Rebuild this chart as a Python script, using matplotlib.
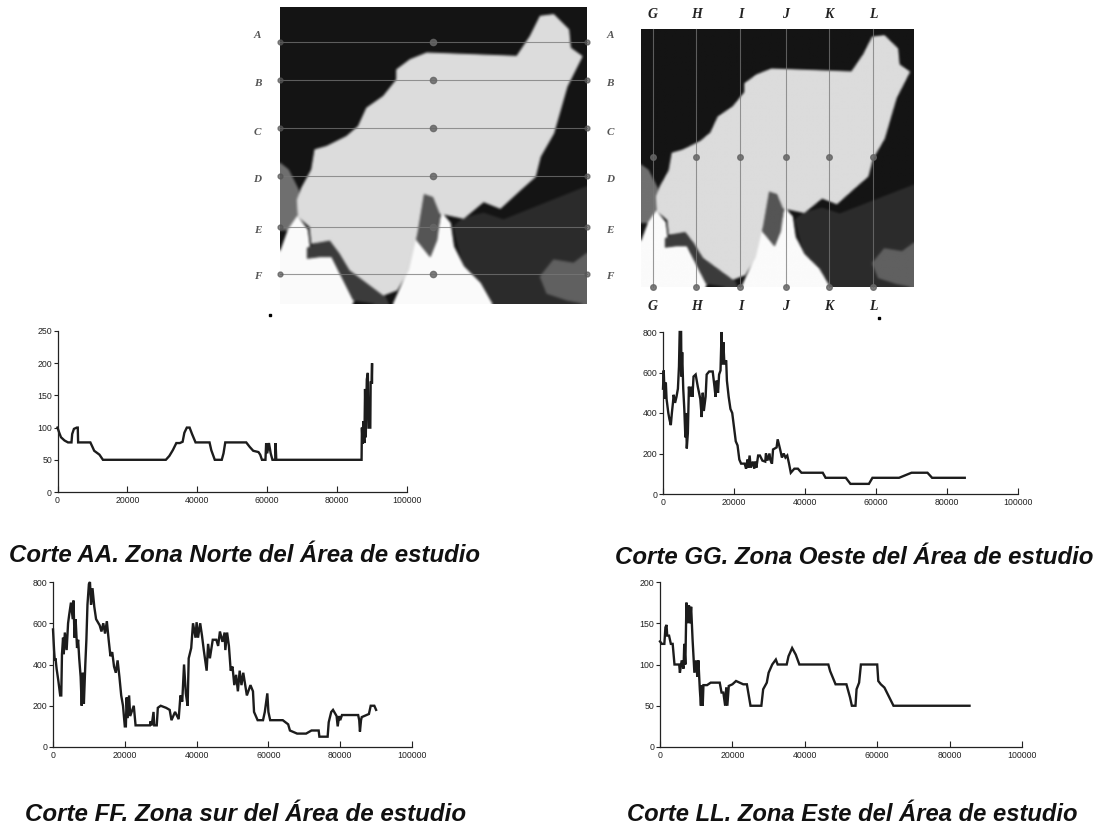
import numpy as np
import matplotlib
matplotlib.use("Agg")
import matplotlib.pyplot as plt
from matplotlib.figure import Figure
from matplotlib.backends.backend_agg import FigureCanvasAgg
from matplotlib.patches import Polygon

W, H = 1096, 826

# ---------- profile data ----------
aa_x = [0,500,1000,2000,3000,4000,4200,4700,5500,5800,5900,9400,10000,10500,12000,13000,31000,32000,33000,34000,35000,35800,36300,37000,37800,38500,39500,43500,44000,45000,47000,47500,48000,54000,55000,56000,57500,58000,58500,59500,59700,60000,60500,61000,61500,62300,62400,62600,87000,87100,87300,87500,87800,88000,88200,88500,88800,89000,89500,89600,89900,90000,90000]
aa_y = [100,92,85,80,77,77,90,98,100,100,77,77,70,64,58,50,50,56,65,76,76,78,92,100,100,90,77,77,65,50,50,60,77,77,70,64,62,58,50,50,76,60,76,60,50,50,76,50,50,100,75,110,76,160,85,175,185,100,100,170,170,200,170]

gg_x = [0,200,500,800,1000,1500,1800,2200,2500,2800,3000,3400,3800,4200,4500,4700,5100,5200,5400,5700,6000,6300,6500,6700,7000,7300,7500,8000,8300,8600,9200,9800,10500,10900,11200,11500,12000,12300,13000,14000,14500,14800,15100,15500,15800,16200,16500,16700,17000,17300,17800,18000,18500,19000,19500,20000,20500,21000,21500,22000,23000,23400,23800,24000,24400,24700,25300,25700,26000,26300,26800,27300,28000,28800,29000,29400,30000,30200,30700,31000,32000,32300,33000,33500,34000,34500,35000,35500,36000,37000,38000,39000,45000,45800,51500,52800,58000,59000,66500,70000,74500,75800,85000]
gg_y = [520,610,470,550,470,400,370,340,400,450,490,450,480,520,630,800,800,580,700,520,420,280,400,225,300,530,480,530,480,580,590,530,470,380,500,410,480,590,605,605,530,480,560,500,590,610,800,640,750,640,660,560,480,420,400,330,260,240,170,150,150,125,170,130,190,130,160,125,160,130,190,190,165,160,200,165,200,170,150,220,230,270,220,180,200,180,190,150,105,125,125,105,105,80,80,50,50,80,80,105,105,80,80]

ff_x = [0,300,500,700,1000,1500,2000,2300,2500,2800,3000,3300,3800,4200,4500,5000,5500,5700,6000,6300,6700,7000,7300,7700,8000,8300,8600,9000,9300,9600,10000,10300,10600,11000,11500,12000,13000,13500,14000,14500,15000,15500,16000,16500,17000,17500,18000,18500,19000,19500,20000,20300,20500,20800,21200,21500,22500,23000,27000,27200,27500,28000,28200,28900,29200,30000,31500,32500,33000,34000,35000,35500,36000,36500,37000,37500,37800,38500,39000,39700,40000,40400,41000,41500,42000,42800,43200,43700,44500,45500,46000,46500,47200,47800,48000,48500,49000,49500,50000,50500,51000,51500,52000,52500,53000,54000,55000,55700,56000,57000,58500,59000,59700,60000,60500,64000,65500,66000,68000,70500,72000,74000,74200,76500,76800,77500,78000,79000,79300,79700,80000,80500,85000,85300,85500,85800,86000,88000,88500,89500,90000]
ff_y = [570,470,420,430,380,320,250,250,450,530,450,555,470,600,640,700,620,710,530,620,480,520,430,340,200,360,210,400,520,690,790,800,690,770,680,620,590,560,600,550,610,520,440,460,390,360,420,340,250,200,100,100,240,140,250,150,200,105,105,125,105,170,105,105,190,200,190,180,130,170,135,250,220,400,260,200,430,480,600,530,605,530,600,540,470,370,500,430,520,520,490,560,510,555,470,555,490,370,390,300,350,270,370,300,360,250,300,270,170,130,130,170,260,170,130,130,110,80,65,65,80,80,50,50,120,170,180,150,100,150,130,155,155,130,75,130,145,160,200,200,180]

ll_x = [0,500,1200,1500,1800,2000,2500,3000,3500,4000,5300,5500,6000,6500,6700,7000,7300,7600,8000,8300,8600,9000,9500,10000,10300,10600,11000,11300,11500,11800,12000,13000,14000,16500,17000,17500,18000,18300,18600,19000,20000,21000,22000,23000,24000,25000,28000,28500,29500,30000,31000,32000,32500,35000,35500,36500,37500,38500,46500,47000,48500,51500,52500,53000,54000,54300,55000,55500,60000,60300,61000,62000,64500,85500]
ll_y = [128,125,125,145,148,135,135,125,125,100,100,90,105,95,125,100,175,150,172,150,170,130,90,105,85,105,70,50,75,50,75,75,78,78,66,66,50,72,50,74,76,80,78,76,76,50,50,70,78,90,100,106,100,100,110,120,112,100,100,92,76,76,60,50,50,70,78,100,100,80,76,72,50,50]

x_ticks = [0,20000,40000,60000,80000,100000]
aa_ticks = [0,50,100,150,200,250]
gg_ticks = [0,200,400,600,800]
ff_ticks = [0,200,400,600,800]
ll_ticks = [0,50,100,150,200]

captions = ["Corte AA. Zona Norte del Área de estudio",
            "Corte GG. Zona Oeste del Área de estudio",
            "Corte FF. Zona sur del Área de estudio",
            "Corte LL. Zona Este del Área de estudio"]

# ---------- map outlines (3x zoom units of the left map) ----------
land_x = [890,620,570,530,530,490,440,415,380,320,285,275,245,232,235,270,275,330,360,390,430,490,530,565,590,610,640,660,730,790,840,900,945,960,1000,1040,1085,1050,1045,1000,960,930]
land_y = [170,160,180,210,240,290,325,380,410,440,450,510,565,600,650,680,730,720,760,810,840,885,870,810,700,580,590,640,655,605,625,570,530,470,400,260,170,145,90,45,50,110]
white_w_x = [180,205,232,262,268,262,300,335,365,392,415,395,180]
white_w_y = [760,690,650,690,740,770,745,735,780,830,880,912,912]
white_m_x = [520,565,585,610,650,665,690,700,730,780,815,800,520]
white_m_y = [912,810,720,700,720,640,670,740,800,850,912,912,912]
grey_w_x = [180,205,235,235,215,180]
grey_w_y = [490,510,570,650,690,690]
grey_m_x = [610,640,660,650,630,590,585]
grey_m_y = [580,590,640,720,770,720,680]
coast_x = [262,300,335,365,392,430,490,505,480,400,365,335,300,262]
coast_y = [745,725,715,755,805,835,880,912,912,900,830,770,770,775]
shade_x = [700,730,790,850,900,1100,1100,815,730]
shade_y = [680,655,640,660,640,560,912,912,800]
patch_x = [960,1000,1060,1100,1100,1040,980]
patch_y = [830,780,790,760,912,900,880]
row_y = [125,240,385,527,680,822]
row_labels = ["A","B","C","D","E","F"]
row_label_y = [105,250,397,540,692,830]
col_x = [158,288,421,558,686,820]
col_labels = ["G","H","I","J","K","L"]

def render_base():
    """Draw the map shapes off-screen and soften them like the scanned original."""
    f = Figure(figsize=(3.07,2.97),dpi=100)
    c = FigureCanvasAgg(f)
    a = f.add_axes([0,0,1,1]); a.axis("off")
    a.set_xlim(180,1100); a.set_ylim(912,22)
    a.set_facecolor("#141414"); f.patch.set_facecolor("#141414")
    def poly(xs,ys,col,z):
        a.add_patch(Polygon(list(zip(xs,ys)),fc=col,ec=col,lw=.8,zorder=z))
    poly(shade_x,shade_y,"#2c2c2c",2)
    poly(patch_x,patch_y,"#606060",2.5)
    poly(grey_w_x,grey_w_y,"#707070",2)
    poly(white_w_x,white_w_y,"#fbfbfb",3)
    poly(white_m_x,white_m_y,"#fbfbfb",3)
    poly(coast_x,coast_y,"#3c3c3c",3.2)
    poly(grey_m_x,grey_m_y,"#555555",3.5)
    poly(land_x,land_y,"#dcdcdc",4)
    c.draw()
    img = np.asarray(c.buffer_rgba())[...,:3].astype(float)
    k = np.array([1,2,3,2,1],float); k /= k.sum()
    for ax_ in (0,1):
        img = np.apply_along_axis(lambda r: np.convolve(np.pad(r,2,mode="edge"),k,mode="valid"),ax_,img)
    return img/255

fig = plt.figure(figsize=(W/100, H/100), dpi=100, facecolor="white")
plt.rcParams["font.family"] = "Liberation Sans"
bg = fig.add_axes([0,0,1,1])
base = render_base()
bg.imshow(base,extent=(280,587,304,7),aspect="auto",interpolation="bilinear",zorder=1)
bg.imshow(base,extent=(641,914,287,29),aspect="auto",interpolation="bilinear",zorder=1)
bg.set_xlim(0,W); bg.set_ylim(H,0); bg.axis("off")

lab_kw = dict(family="Liberation Serif",style="italic",weight="bold",ha="center",va="center")
f1x = lambda v: 220+v/3
f1y = lambda v: v/3
for yy,ly,lab in zip(row_y,row_label_y,row_labels):
    bg.plot([280,587],[f1y(yy)]*2,color="#777777",lw=.8,alpha=.75,zorder=5)
    bg.plot([433],[f1y(yy)],ls="none",marker="o",ms=4.5,color="#666666",alpha=.85,zorder=6)
    bg.plot([280,587],[f1y(yy)]*2,ls="none",marker="o",ms=3.5,color="#555555",alpha=.7,zorder=6)
    bg.text(f1x(112),f1y(ly),lab,fontsize=8,color="#555555",**lab_kw)
    bg.text(f1x(1170),f1y(ly),lab,fontsize=8,color="#555555",**lab_kw)

to_x = lambda v: 600+v/3
for cx,lab in zip(col_x,col_labels):
    bg.plot([to_x(cx)]*2,[29,287],color="#777777",lw=.8,alpha=.75,zorder=5)
    bg.plot([to_x(cx)]*2,[157,287],ls="none",marker="o",ms=4,color="#666666",alpha=.85,zorder=6)
    bg.text(to_x(cx),15,lab,fontsize=10,color="#222222",**lab_kw)
    bg.text(to_x(cx),306,lab,fontsize=10,color="#222222",**lab_kw)
bg.plot([270,879],[315,318],ls="none",marker="s",ms=1.5,color="black")

def profile(xs,ys,yt,left,right,top,bottom):
    ax = fig.add_axes([left/W,1-bottom/H,(right-left)/W,(bottom-top)/H])
    ax.patch.set_alpha(0)
    ax.plot(xs,ys,color="#1c1c1c",lw=1.7,solid_joinstyle="miter",clip_on=False)
    ax.set_xlim(0,100000); ax.set_ylim(0,yt[-1])
    ax.set_xticks(x_ticks); ax.set_yticks(yt)
    for s in ("top","right"): ax.spines[s].set_visible(False)
    for s in ("left","bottom"):
        ax.spines[s].set_linewidth(.9); ax.spines[s].set_color("#222222")
    ax.tick_params(axis="x",direction="in",length=4,width=.8,labelsize=6.3,pad=3,color="#222222",labelcolor="#222222")
    ax.tick_params(axis="y",direction="out",length=3,width=.8,labelsize=6.3,pad=1,color="#222222",labelcolor="#222222")
    return ax

profile(aa_x,aa_y,aa_ticks,57.5,407,331,492)
profile(gg_x,gg_y,gg_ticks,663,1018,332,494)
profile(ff_x,ff_y,ff_ticks,53,412,582,747)
profile(ll_x,ll_y,ll_ticks,660,1022,582,747)

cap_kw = dict(family="Liberation Sans",style="italic",weight="bold",color="#111111",va="baseline",ha="left")
bg.text(9,562,captions[0],fontsize=17.25,**cap_kw)
bg.text(615,564,captions[1],fontsize=17.3,**cap_kw)
bg.text(25,821,captions[2],fontsize=17.4,**cap_kw)
bg.text(627,821,captions[3],fontsize=17.15,**cap_kw)

fig.savefig("out.png",dpi=100)
